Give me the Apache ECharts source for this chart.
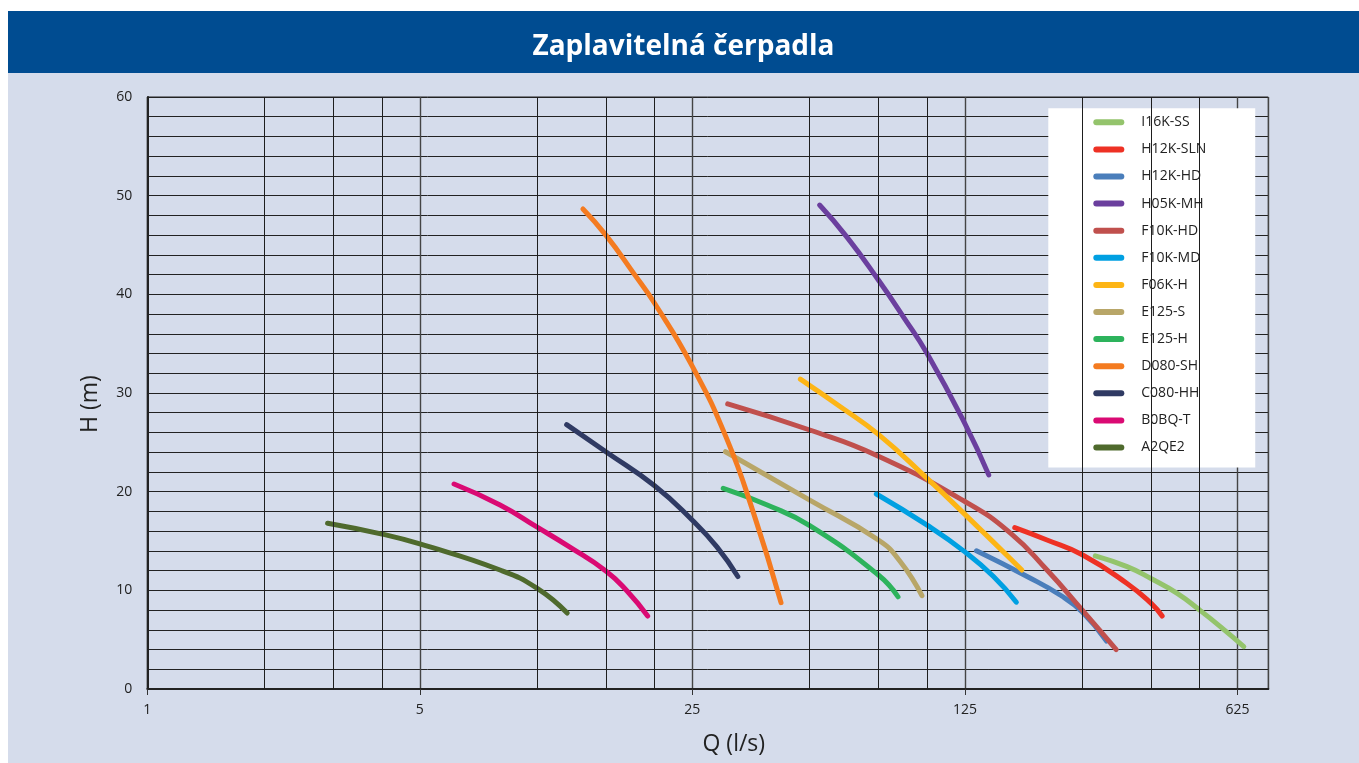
<!DOCTYPE html>
<html>
<head>
<meta charset="utf-8">
<script src="https://cdn.jsdelivr.net/npm/echarts@6.0.0/dist/echarts.min.js"></script>
<style>
html,body{margin:0;padding:0;background:#ffffff;}
#c{position:absolute;left:8px;top:11px;width:1351px;height:752px;}
</style>
</head>
<body>
<div id="c"></div>
<script>
// ---- data (Q in l/s, H in m) ----
const seriesNames = ['I16K-SS','H12K-SLN','H12K-HD','H05K-MH','F10K-HD','F10K-MD','F06K-H','E125-S','E125-H','D080-SH','C080-HH','B0BQ-T','A2QE2'];
const seriesColors = ['#94C46C','#EE3124','#4A7EBB','#6B3F9E','#C0504D','#00A0E2','#FDB515','#B8A668','#2DB35C','#F47B20','#2F3A63','#DA0A73','#4F6A2D'];

const dataI16K_SS  = [[270,13.5],[325.7,12.4],[375,11.2],[438,9.7],[500,8.0],[566,6.3],[649,4.3]];
const dataH12K_SLN = [[167.8,16.35],[203,15.1],[250,13.6],[325.7,10.7],[375,8.7],[400.7,7.4]];
const dataH12K_HD  = [[133.8,14.0],[180.5,11.4],[219.8,9.5],[250,7.8],[288.5,4.86]];
const dataH05K_MH  = [[53.0,49.05],[62.3,45.8],[75,41.45],[87,37.7],[100,34.0],[125,26.9],[143.9,21.7]];
const dataF10K_HD  = [[30.8,28.9],[50,26.25],[75,23.6],[125,19.0],[163.6,15.8],[203,12.06],[250,8.0],[305.5,4.0]];
const dataF10K_MD  = [[74.1,19.76],[100,16.6],[125,13.9],[148,11.4],[169.4,8.8]];
const dataF06K_H   = [[47.3,31.4],[59.9,28.6],[75,25.8],[100,21.35],[125,17.7],[175,12.06]];
const dataE125_S   = [[30.4,24.05],[50,19.15],[75,15.1],[85.4,12.9],[97.0,9.46]];
const dataE125_H   = [[30.0,20.34],[38.9,18.65],[50,16.55],[75,11.55],[84.2,9.35]];
const dataD080_SH  = [[13.1,48.65],[15,46.0],[17.7,42.1],[20,39.1],[25,32.7],[30.6,25.4],[35.9,17.8],[42.2,8.75]];
const dataC080_HH  = [[11.9,26.8],[15,24.05],[20,20.6],[25,17.1],[28.9,14.4],[32.7,11.4]];
const dataB0BQ_T   = [[6.12,20.78],[8.03,18.65],[10,16.4],[12.1,14.4],[15,11.96],[17.0,9.93],[19.2,7.4]];
const dataA2QE2    = [[2.9,16.8],[4,15.7],[5,14.7],[8.03,12.06],[10,10.2],[11.94,7.7]];

const seriesData = [dataI16K_SS,dataH12K_SLN,dataH12K_HD,dataH05K_MH,dataF10K_HD,dataF10K_MD,dataF06K_H,dataE125_S,dataE125_H,dataD080_SH,dataC080_HH,dataB0BQ_T,dataA2QE2];

// axes
const xMin = 1, xMax = 750;
const xMinorGrid = [2,3,4,10,15,20,50,75,100,250,375,500];
const yMin = 0, yMax = 60, yStep = 10;

const FONT = '"Open Sans", "Liberation Sans", sans-serif';
const chart = echarts.init(document.getElementById('c'));

const lineSeries = seriesNames.map((n, i) => ({
  name: n,
  type: 'line',
  data: seriesData[i],
  smooth: 0.5,
  showSymbol: false,
  symbol: 'none',
  color: seriesColors[i],
  lineStyle: { width: 5, color: seriesColors[i], cap: 'round', join: 'round' },
  emphasis: { disabled: true },
  z: 3
}));

const gridSeries = {
  type: 'line',
  data: [],
  z: 1,
  silent: true,
  markLine: {
    silent: true,
    animation: false,
    symbol: ['none','none'],
    label: { show: false },
    emphasis: { disabled: true },
    lineStyle: { color: '#1e1e1e', width: 1, type: 'solid' },
    data: xMinorGrid.map(v => ({ xAxis: v }))
  }
};

chart.setOption({
  animation: false,
  backgroundColor: '#D5DCEB',
  graphic: [{
    type: 'rect', left: 0, top: 0, z: -10, silent: true,
    shape: { width: 1351, height: 62 },
    style: { fill: '#004C91' }
  }],
  title: {
    text: 'Zaplavitelná čerpadla',
    left: 'center',
    top: 17,
    textStyle: { color: '#ffffff', fontSize: 28, fontWeight: 'bold', fontFamily: FONT }
  },
  grid: {
    left: 139.3, right: 90.7, top: 86, bottom: 74,
    show: true, borderColor: '#222', borderWidth: 1, backgroundColor: 'transparent',
    containLabel: false
  },
  legend: {
    orient: 'vertical',
    left: 1040.3,
    top: 97.3,
    backgroundColor: '#ffffff',
    padding: [6, 49, 12, 45],
    itemGap: 11.1,
    itemWidth: 31,
    itemHeight: 6,
    icon: 'path://M3,0H28A3,3,0,0,1,28,6H3A3,3,0,0,1,3,0Z',
    data: seriesNames,
    selectedMode: false,
    textStyle: { fontSize: 14, lineHeight: 16, color: '#222', fontFamily: FONT, padding: [0,0,0,12] }
  },
  xAxis: {
    type: 'log',
    logBase: 5,
    min: xMin,
    max: xMax,
    name: 'Q (l/s)',
    nameLocation: 'middle',
    nameGap: 44,
    nameTextStyle: { fontSize: 23, color: '#222', fontFamily: FONT, padding: [0,0,0,52] },
    axisLine: { show: true, onZero: false, lineStyle: { color: '#222', width: 2 } },
    axisTick: { show: true, length: 6, lineStyle: { color: '#333' } },
    axisLabel: { fontSize: 14, color: '#222', fontFamily: FONT, margin: 14, showMaxLabel: false },
    splitLine: { show: true, lineStyle: { color: '#444', width: 1.4 } },
    minorTick: { show: false },
    minorSplitLine: { show: false }
  },
  yAxis: {
    type: 'value',
    min: yMin,
    max: yMax,
    interval: yStep,
    name: 'H (m)',
    nameLocation: 'middle',
    nameRotate: 90,
    nameGap: 45,
    nameTextStyle: { fontSize: 23, color: '#222', fontFamily: FONT, padding: [0,22,0,0] },
    axisLine: { show: true, lineStyle: { color: '#222', width: 2 } },
    axisTick: { show: false },
    axisLabel: { fontSize: 14, color: '#222', fontFamily: FONT, margin: 15 },
    splitLine: { show: true, lineStyle: { color: '#222', width: 1 } },
    minorTick: { show: false, splitNumber: 5 },
    minorSplitLine: { show: true, lineStyle: { color: '#222', width: 1 } }
  },
  series: [gridSeries].concat(lineSeries)
});
</script>
</body>
</html>
